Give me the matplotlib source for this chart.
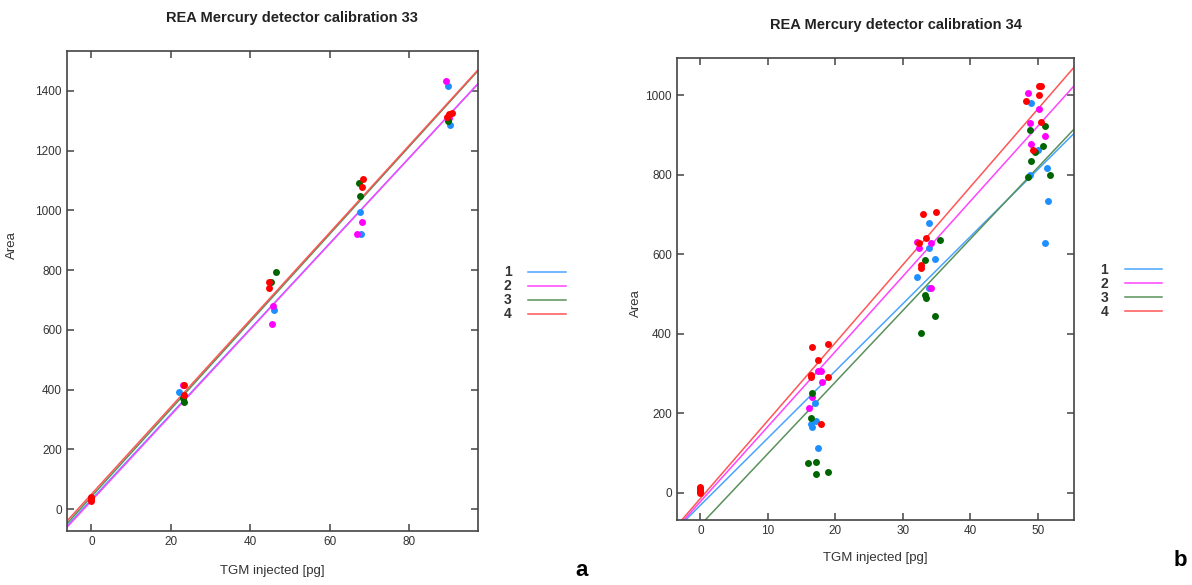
import numpy as np
import matplotlib
matplotlib.use("Agg")
import matplotlib.pyplot as plt

plt.rcParams['font.family'] = ['Liberation Sans', 'DejaVu Sans']

# ---- calibration 33 (panel a) ----
x33_1 = [0, 22.1, 45.9, 67.6, 67.8, 89.8, 90.2]
y33_1 = [38, 391, 667, 993, 921, 1416, 1284]
x33_2 = [0, 23.0, 45.6, 45.4, 66.9, 68.0, 89.2, 90.0]
y33_2 = [30, 416, 681, 619, 921, 962, 1432, 1310]
x33_3 = [0, 23.3, 23.0, 46.4, 45.1, 67.3, 67.5, 89.7]
y33_3 = [36, 358, 372, 793, 759, 1090, 1048, 1299]
x33_4 = [0, 0, 0, 23.3, 23.3, 44.6, 44.8, 68.4, 68.0, 89.9, 90.6, 89.5]
y33_4 = [28, 35, 42, 416, 382, 761, 741, 1104, 1077, 1322, 1325, 1312]
# fitted lines (intercept, slope)
fit33 = [(32, 14.3), (28, 14.35), (42, 14.65), (50, 14.6)]

# ---- calibration 34 (panel b) ----
x34_1 = [0, 17.0, 16.4, 16.5, 17.2, 17.5, 33.8, 33.9, 34.7, 32.1, 33.9,
         49.0, 50.0, 51.3, 51.5, 51.0, 48.8]
y34_1 = [12, 225, 172, 166, 180, 112, 679, 614, 587, 543, 515,
         979, 862, 816, 734, 628, 800]
x34_2 = [0, 17.4, 17.8, 18.0, 16.6, 16.1, 32.1, 32.4, 34.1, 34.1,
         48.5, 50.2, 48.8, 51.0, 49.0]
y34_2 = [8, 306, 306, 279, 241, 213, 630, 616, 627, 515,
         1006, 965, 930, 897, 878]
x34_3 = [0, 16.6, 16.4, 15.9, 17.2, 17.2, 18.9, 35.5, 33.3, 33.3, 34.7, 32.7, 33.5,
         51.0, 48.8, 50.7, 49.6, 49.0, 51.8, 48.5]
y34_3 = [5, 251, 188, 75, 78, 47, 51, 635, 584, 497, 445, 402, 490,
         922, 912, 873, 856, 834, 800, 794]
x34_4 = [0, 0, 0, 16.6, 18.9, 17.5, 16.4, 16.4, 18.9, 17.8, 33.0, 34.9, 33.5, 32.4, 32.7, 32.7,
         50.2, 50.5, 50.2, 48.3, 50.4, 49.3]
y34_4 = [0, 10, 15, 367, 373, 333, 296, 290, 291, 172, 702, 706, 641, 628, 572, 564,
         1023, 1023, 1000, 985, 933, 863]
fit34 = [(-32, 16.9), (-23, 18.9), (-82, 18.0), (-15, 19.6)]

labels = ["1", "2", "3", "4"]
dot_cols = ["#1e8fff", "#ff00ff", "#006400", "#ff0000"]
line_cols = ["#4aa3ff", "#ff44ff", "#5a915a", "#ff5555"]


def panel(ax, xs, ys, fits, xlim, ylim, xticks, yticks, leg_anchor):
    lines = []
    for (b, m), c in zip(fits, line_cols):
        ln = ax.axline((0, b), slope=m, color=c, lw=1.1, zorder=2)
        lines.append(ln)
    for x, y, c in zip(xs, ys, dot_cols):
        ax.plot(x, y, 'o', color=c, ms=5, mew=0, zorder=3)
    ax.set_xlim(*xlim)
    ax.set_ylim(*ylim)
    ax.set_xticks(xticks)
    ax.set_yticks(yticks)
    ax.tick_params(direction='in', top=True, right=True, length=5, width=1.1,
                   color='#444444', labelsize=8.5, labelcolor='#333333')
    for s in ax.spines.values():
        s.set_color('#444444')
        s.set_linewidth(1.2)
    ax.set_xlabel("TGM injected [pg]", fontsize=9.5, color='#333333')
    ax.set_ylabel("Area", fontsize=9.5, color='#333333')
    ax.legend(lines, labels, loc='center left', bbox_to_anchor=leg_anchor,
              frameon=False, markerfirst=False, handlelength=2.7,
              labelspacing=0.0, handletextpad=1.2, borderaxespad=0,
              prop={'size': 10, 'weight': 'bold'}, labelcolor='#333333')


fig = plt.figure(figsize=(11.92, 5.85), dpi=100)
ax1 = fig.add_axes([0.056, 0.0923, 0.3448, 0.8205])
ax2 = fig.add_axes([0.5677, 0.1111, 0.3336, 0.7903])

panel(ax1, [x33_1, x33_2, x33_3, x33_4], [y33_1, y33_2, y33_3, y33_4], fit33,
      (-6.2, 97.2), (-73, 1533), [0, 20, 40, 60, 80], np.arange(0, 1401, 200),
      (1.05, 0.495))
panel(ax2, [x34_1, x34_2, x34_3, x34_4], [y34_1, y34_2, y34_3, y34_4], fit34,
      (-3.5, 55.4), (-69, 1094), [0, 10, 20, 30, 40, 50], np.arange(0, 1001, 200),
      (1.052, 0.496))

ax1.yaxis.set_label_coords(-0.118, 0.596)
ax1.xaxis.set_label_coords(0.5, -0.071)
ax2.yaxis.set_label_coords(-0.087, 0.47)
ax2.xaxis.set_label_coords(0.5, -0.069)

fig.text(292 / 1192, 1 - 18 / 585, "REA Mercury detector calibration 33",
         ha='center', va='center', fontsize=10.5, fontweight='bold', color='#222222')
fig.text(896 / 1192, 1 - 25 / 585, "REA Mercury detector calibration 34",
         ha='center', va='center', fontsize=10.5, fontweight='bold', color='#222222')
fig.text(582 / 1192, 1 - 570 / 585, "a", ha='center', va='center',
         fontsize=16, fontweight='bold')
fig.text(1180 / 1192, 1 - 560 / 585, "b", ha='center', va='center',
         fontsize=16, fontweight='bold')

fig.savefig("out.png", dpi=100)
